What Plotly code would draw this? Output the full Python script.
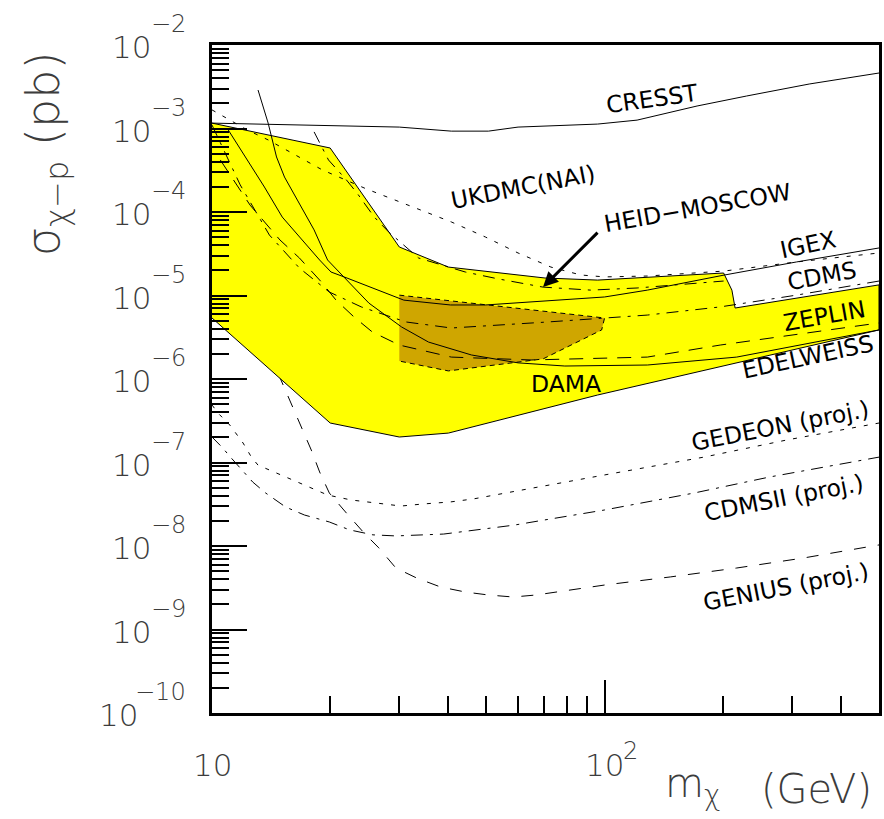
import plotly.graph_objects as go
import math

# ---------------- data: WIMP mass (GeV) and cross-section (pb) ----------------
cresst_m = [10, 19.9, 30, 40.7, 50.6, 60.2, 96, 121, 172, 230, 332, 500]
cresst_s = [1.16e-3, 1.07e-3, 1.04e-3, 9.3e-4, 9.3e-4, 1.04e-3, 1.13e-3, 1.26e-3, 1.86e-3, 2.45e-3, 3.41e-3, 4.62e-3]

ukdmc_m = [10, 12.3, 13.9, 19.1, 24.8, 32.3, 40.7, 49.7, 60.2, 73.0, 87.0, 100, 128.5, 201, 308, 500]
ukdmc_s = [1.67e-3, 9.6e-4, 7.3e-4, 3.19e-4, 1.88e-4, 1.15e-4, 7.6e-5, 5.02e-5, 3.23e-5, 2.19e-5, 1.76e-5, 1.67e-5, 1.71e-5, 1.96e-5, 2.52e-5, 3.23e-5]

igex_m = [11.0, 12.3, 13.6, 15.1, 17.2, 18.8, 20.1, 21.7, 30.8, 40.5, 49.7, 100, 128.5, 202, 308, 500]
igex_s = [9.6e-4, 4.2e-4, 1.99e-4, 8.7e-5, 4.26e-5, 2.66e-5, 1.91e-5, 1.67e-5, 8.8e-6, 7.7e-6, 7.7e-6, 9.6e-6, 1.16e-5, 1.76e-5, 2.52e-5, 3.71e-5]

edelweiss_m = [13.1, 13.9, 14.6, 15.3, 16.5, 18.2, 19.7, 22.1, 25.1, 30.4, 35.6, 45.8, 60.2, 79.2, 128.5, 217, 500]
edelweiss_s = [2.89e-3, 1.16e-3, 4.56e-4, 2.62e-4, 1.39e-4, 6.1e-5, 2.66e-5, 1.53e-5, 8.1e-6, 4.2e-6, 2.77e-6, 1.94e-6, 1.56e-6, 1.43e-6, 1.47e-6, 1.83e-6, 3.87e-6]

zeplin_m = [10.5, 12.5, 14.9, 16.7, 19.0, 20.7, 23.0, 25.6, 30, 40.7, 65.0, 128.5, 197, 286, 500]
zeplin_s = [4.2e-4, 1.21e-4, 4.62e-5, 2.81e-5, 1.45e-5, 8.8e-6, 5.53e-6, 3.66e-6, 2.55e-6, 1.83e-6, 1.69e-6, 1.83e-6, 2.55e-6, 3.28e-6, 4.69e-6]

heid_m = [18.2, 19.8, 22.0, 23.4, 25.9, 28.2, 33.6, 44.2, 53.6, 69.7, 92.2, 121, 201]
heid_s = [9.1e-4, 4.2e-4, 2.42e-4, 1.69e-4, 8.7e-5, 5.75e-5, 2.81e-5, 1.91e-5, 1.58e-5, 1.26e-5, 1.16e-5, 1.23e-5, 1.49e-5]

cdms_dd_m = [10, 11.8, 14.0, 16.7, 19.9, 24.0, 31.2, 40.7, 71.7, 128.5, 197, 308, 500]
cdms_dd_s = [1.1e-3, 2.11e-4, 5.3e-5, 2.13e-5, 1.1e-5, 7.3e-6, 4.82e-6, 4.08e-6, 4.82e-6, 5.83e-6, 7.3e-6, 1.01e-5, 1.49e-5]

dama_up_m = [10, 20.0, 30, 40, 70.5, 96, 201, 211, 215, 500]
dama_up_s = [1.16e-3, 5.84e-4, 3.81e-5, 2.19e-5, 1.62e-5, 1.53e-5, 1.86e-5, 1.16e-5, 7.08e-6, 1.34e-5]
dama_lo_m = [10, 20.0, 30, 40, 96, 500]
dama_lo_s = [5.38e-6, 2.97e-7, 2.02e-7, 2.25e-7, 6.43e-7, 3.87e-6]

dama_core_m = [30, 100, 98.3, 69.7, 40, 30]
dama_core_s = [1.01e-5, 5.38e-6, 3.87e-6, 1.74e-6, 1.25e-6, 1.64e-6]

genius_m = [13.2, 15.0, 15.9, 16.9, 17.9, 18.8, 19.9, 22.0, 24.4, 26.6, 29.4, 33.2, 38.2, 44.2, 50.6, 58.5, 66.9, 100, 147, 217, 321, 500]
genius_s = [3.87e-6, 9.7e-7, 5.16e-7, 2.66e-7, 1.41e-7, 7.7e-8, 4.31e-8, 2.48e-8, 1.43e-8, 9.5e-9, 5.45e-9, 4.14e-9, 3.23e-9, 2.81e-9, 2.59e-9, 2.45e-9, 2.59e-9, 3.41e-9, 4.26e-9, 5.45e-9, 7.18e-9, 1.03e-8]

gedeon_m = [10, 10.35, 11.1, 12.0, 12.6, 13.1, 15.0, 17.2, 19.7, 22.6, 25.9, 30.3, 34.6, 40.5, 46.3, 53.0, 65.7, 110, 179, 291, 500]
gedeon_s = [4.89e-7, 3.92e-7, 2.81e-7, 1.71e-7, 1.16e-7, 9.3e-8, 7.08e-8, 5.38e-8, 4.08e-8, 3.56e-8, 3.27e-8, 3.01e-8, 3.19e-8, 3.37e-8, 3.66e-8, 4.08e-8, 4.95e-8, 7.7e-8, 1.16e-7, 1.86e-7, 2.97e-7]

cdmsii_m = [10, 10.6, 11.2, 12.1, 12.7, 13.7, 15.4, 17.2, 19.9, 22.4, 25.7, 29.4, 34.0, 38.9, 44.7, 51.2, 58.9, 67.7, 100, 169, 263, 500]
cdmsii_s = [2.02e-7, 1.53e-7, 1.13e-7, 7.5e-8, 5.83e-8, 4.31e-8, 2.93e-8, 2.35e-8, 1.94e-8, 1.56e-8, 1.36e-8, 1.32e-8, 1.36e-8, 1.39e-8, 1.51e-8, 1.64e-8, 1.78e-8, 1.99e-8, 2.7e-8, 4.31e-8, 6.7e-8, 1.16e-7]

heid_arrow_target = (69.7, 1.26e-5)

x_tick_exps = [1, 2]
y_tick_exps = [-10, -9, -8, -7, -6, -5, -4, -3, -2]

labels = [
    ("CRESST", 0.660, 0.919, -8),
    ("UKDMC(NAI)", 0.467, 0.787, -11),
    ("HEID\u2212MOSCOW", 0.728, 0.756, -10),
    ("IGEX", 0.893, 0.701, -12),
    ("CDMS", 0.915, 0.654, -11),
    ("ZEPLIN", 0.919, 0.594, -10),
    ("EDELWEISS", 0.893, 0.533, -12),
    ("DAMA", 0.531, 0.493, 0),
    ("GEDEON (proj.)", 0.851, 0.430, -11),
    ("CDMSII (proj.)", 0.857, 0.322, -11),
    ("GENIUS (proj.)", 0.860, 0.189, -11),
]

# ---------------- figure ----------------
fig = go.Figure()

DOT = "4px,8px"
DASH = "12px,12px"
DASHDOT = "12px,7px,3px,7px"

def line(m, s, dash="solid", width=1.0):
    fig.add_trace(go.Scatter(x=m, y=s, mode="lines",
                             line=dict(color="black", width=width, dash=dash),
                             hoverinfo="skip", showlegend=False))

# projected sensitivities (drawn first, partly hidden by the DAMA region)
line(genius_m, genius_s, DASH)
line(gedeon_m, gedeon_s, DOT)
line(cdmsii_m, cdmsii_s, DASHDOT)

# DAMA allowed region
fig.add_trace(go.Scatter(x=dama_up_m + dama_lo_m[::-1], y=dama_up_s + dama_lo_s[::-1],
                         mode="lines", fill="toself", fillcolor="rgb(255,255,0)",
                         line=dict(color="black", width=1), hoverinfo="skip", showlegend=False))
fig.add_trace(go.Scatter(x=dama_core_m, y=dama_core_s, mode="lines", fill="toself",
                         fillcolor="rgb(207,166,0)",
                         line=dict(color="black", width=1, dash="5px,4px"),
                         hoverinfo="skip", showlegend=False))

# exclusion limits
line(cresst_m, cresst_s)
line(ukdmc_m, ukdmc_s, DOT)
line(igex_m, igex_s)
line(edelweiss_m, edelweiss_s)
line(zeplin_m, zeplin_s, "14px,10px")
line(heid_m, heid_s, DASHDOT)
line(cdms_dd_m, cdms_dd_s, DASHDOT)

ann = []
LBL_FONT = dict(family="DejaVu Sans", size=23.5, color="black")
for txt, px, py, ang in labels:
    ann.append(dict(text=txt, x=px, y=py, xref="paper", yref="paper", showarrow=False,
                    textangle=ang, font=LBL_FONT, xanchor="center", yanchor="middle"))

# arrow to HEID-MOSCOW curve
ann.append(dict(text="", x=math.log10(heid_arrow_target[0]), y=math.log10(heid_arrow_target[1]),
                xref="x", yref="y", showarrow=True, arrowhead=2, arrowsize=1.0, arrowwidth=3,
                arrowcolor="black", ax=56, ay=-56))

AX_FONT = dict(family="DejaVu Sans", size=31, color="#3c3c3c", weight=200)
EXP_FONT = dict(family="DejaVu Sans", size=24, color="#3c3c3c", weight=200)

# y tick labels
for e in y_tick_exps:
    etxt = "\u2212" + str(abs(e))
    ann.append(dict(text=etxt, x=-0.0358, y=e, xref="paper", yref="y", showarrow=False,
                    xanchor="right", yanchor="middle", yshift=21, font=EXP_FONT))
    ann.append(dict(text="10", x=-0.0358, y=e, xref="paper", yref="y", showarrow=False,
                    xanchor="right", yanchor="middle", yshift=-2,
                    xshift=-17.5 * len(etxt) + (4 if len(etxt) > 2 else 0), font=AX_FONT))

# x tick labels
for e in x_tick_exps:
    ann.append(dict(text="10", x=e, y=-0.078, xref="x", yref="paper", showarrow=False,
                    xanchor="center", yanchor="middle", font=AX_FONT))
    if e != 1:
        ann.append(dict(text=str(e), x=e, y=-0.057, xref="x", yref="paper", showarrow=False,
                        xanchor="left", yanchor="middle", xshift=16, font=EXP_FONT))

# axis titles
ann.append(dict(text="\u03c3<sub>\u03c7\u2212p</sub> (pb)", x=-0.249, y=0.838, xref="paper", yref="paper",
                showarrow=False, textangle=-90, xanchor="center", yanchor="middle",
                font=dict(family="DejaVu Sans", size=46, color="#3c3c3c", weight=200)))
ann.append(dict(text="m<sub>\u03c7</sub>", x=0.676, y=-0.11, xref="paper", yref="paper",
                showarrow=False, xanchor="left", yanchor="middle",
                font=dict(family="DejaVu Sans", size=40, color="#3c3c3c", weight=200)))
ann.append(dict(text="(GeV)", x=0.907, y=-0.114, xref="paper", yref="paper",
                showarrow=False, xanchor="center", yanchor="middle",
                font=dict(family="DejaVu Sans", size=40, color="#3c3c3c", weight=200)))

axis_common = dict(type="log", showgrid=False, zeroline=False, showline=True, linecolor="black",
                   linewidth=3, mirror=True, ticks="inside", tickcolor="black", tickwidth=1.5,
                   showticklabels=False, dtick=1)

fig.update_layout(
    width=884, height=819,
    margin=dict(l=212, r=2, t=45, b=106),
    paper_bgcolor="white", plot_bgcolor="white",
    xaxis=dict(range=[1, math.log10(500)], ticklen=33,
               minor=dict(ticks="inside", ticklen=17, tickwidth=1.5, tickcolor="black", dtick="D1", showgrid=False),
               **axis_common),
    yaxis=dict(range=[-10, -2], ticklen=35,
               minor=dict(ticks="inside", ticklen=17, tickwidth=1.5, tickcolor="black", dtick="D1", showgrid=False),
               **axis_common),
    annotations=ann,
)

fig.write_html("out.html")
